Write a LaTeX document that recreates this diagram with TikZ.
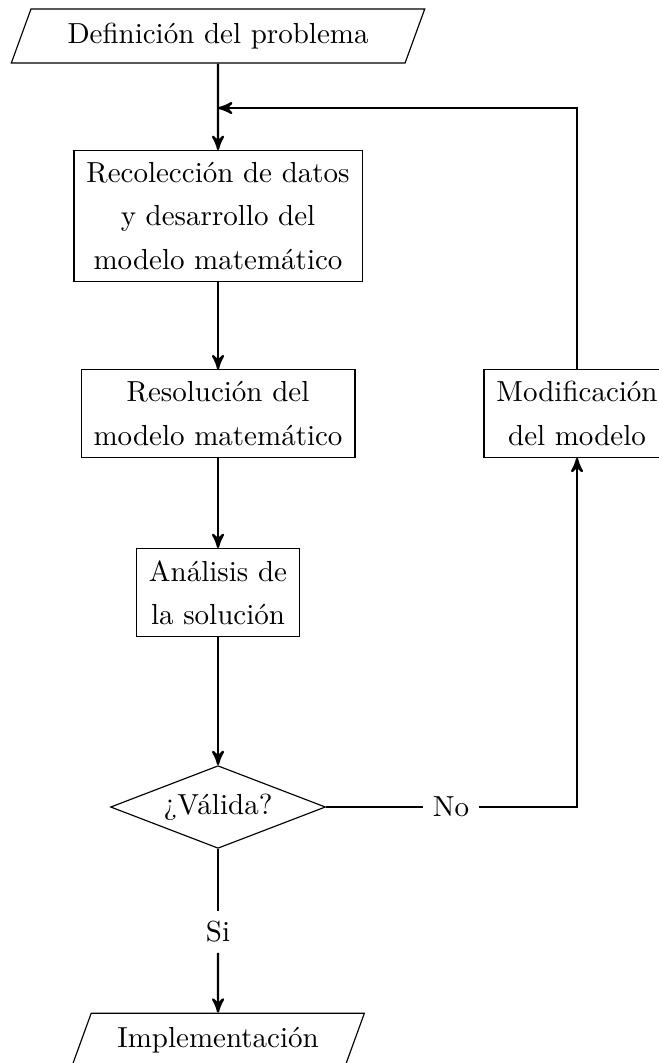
\documentclass[tikz,border=0pt]{standalone}
\usepackage{tikz}
\usetikzlibrary{arrows, shapes.geometric}
\tikzset{
	>=stealth', % curved arrow heads
	io/.style={trapezium, trapezium left angle=70, trapezium right angle=110, draw, inner xsep=12.6pt, inner ysep=4.8pt}, % start and end boxes
	process/.style={rectangle, draw, align=center, inner xsep=4.3pt, inner ysep=4pt, font=\fontsize{10pt}{15pt}\selectfont}, % the steps
	decision/.style={diamond, draw, aspect=2.6, inner sep=1.8pt}, % the question
	flow/.style={thick}, % every connector
}
\begin{document}
\begin{tikzpicture}
		\useasboundingbox (0,0) rectangle (7.974,-12.881);
		
		\node[io] (def) at (2.642,-0.436) {Definición del problema};
		\node[process] (rec) at (2.642,-2.617) {Recolección de datos\\y desarrollo del\\modelo matemático};
		\node[process] (res) at (2.642,-5.011) {Resolución del\\modelo matemático};
		\node[process] (ana) at (2.642,-7.180) {Análisis de\\la solución};
		\node[decision] (val) at (2.642,-9.779) {¿Válida?};
		\node (si) at (2.642,-11.294) {Si};
		\node[io, inner xsep=9pt] (imp) at (2.642,-12.603) {Implementación};
		\node (no) at (5.465,-9.779) {No};
		\node[process] (mod) at (6.992,-5.011) {Modificación\\del modelo};
		\coordinate (join) at (2.642,-1.309);
		
		\draw[flow,->] (def) -- (rec);
		\draw[flow,->] (rec) -- (res);
		\draw[flow,->] (res) -- (ana);
		\draw[flow,->] (ana) -- (val);
		\draw[flow] (val) -- (si);
		\draw[flow,->] (si) -- (imp);
		\draw[flow] (val) -- (no);
		\draw[flow,->] (no) -| (mod);
		\draw[flow,->] (mod) |- (join);
		\end{tikzpicture}
\end{document}
